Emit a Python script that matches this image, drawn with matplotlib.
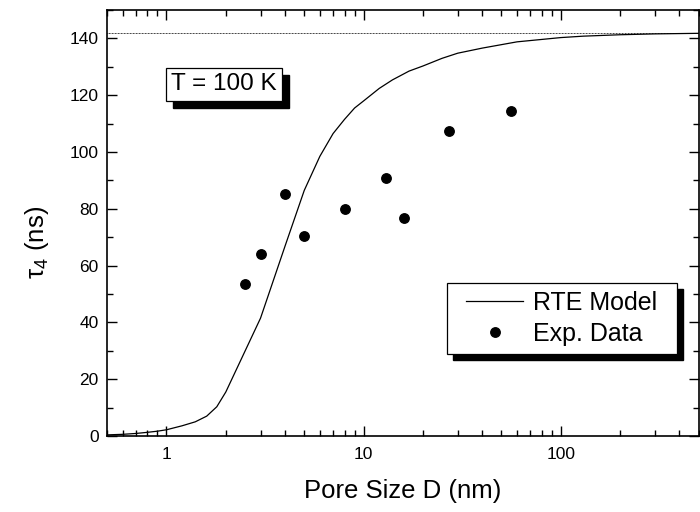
import matplotlib
matplotlib.use("Agg")
import matplotlib.pyplot as plt
from matplotlib.patches import Rectangle
from matplotlib.transforms import Bbox
from matplotlib.ticker import LogLocator, NullFormatter, FixedLocator, MultipleLocator

plt.rcParams['font.family'] = ['Liberation Sans', 'DejaVu Sans']
plt.rcParams['mathtext.fontset'] = 'custom'
plt.rcParams['mathtext.rm'] = 'Liberation Sans'
plt.rcParams['mathtext.it'] = 'Liberation Sans:italic'

# RTE model curve
model_D = [0.5, 0.6, 0.7, 0.8, 0.9, 1.0, 1.2, 1.4, 1.6, 1.8, 2.0, 3.0, 4.0, 5.0,
           6.0, 7.0, 8.0, 9.0, 10, 12, 14, 17, 20, 25, 30, 40, 60, 100, 130, 200, 300, 500]
model_tau = [0.4, 0.6, 0.9, 1.3, 1.7, 2.2, 3.6, 5.0, 7.0, 10.3, 15.5, 41.5, 67.0, 86.5,
             98.5, 106.5, 111.5, 115.5, 118.0, 122.4, 125.4, 128.5, 130.3, 133.0, 134.8,
             136.6, 138.8, 140.3, 140.8, 141.3, 141.6, 141.8]

# Experimental data
exp_D = [2.5, 3.0, 4.0, 5.0, 8.0, 13.0, 16.0, 27.0, 56.0]
exp_tau = [53.6, 64.1, 85.2, 70.3, 80.0, 91.0, 76.7, 107.5, 114.3]

asymptote = 142.0
xticks = [1, 10, 100]
xticklabels = ['1', '10', '100']

fig = plt.figure(figsize=(7.0, 5.12), dpi=100)
ax = fig.add_axes([0.153, 0.1484, 0.845, 0.832])

ax.axhline(asymptote, color='black', linestyle=(0, (1, 0.8)), linewidth=0.6, zorder=1)
ax.plot(model_D, model_tau, color='black', linewidth=0.9, label='RTE Model', zorder=2)
ax.plot(exp_D, exp_tau, linestyle='none', marker='o', color='black', markersize=6.8,
        label='Exp. Data', zorder=3)

ax.set_xscale('log')
ax.set_xlim(0.5, 500)
ax.set_ylim(0, 150)

ax.xaxis.set_major_locator(FixedLocator(xticks))
ax.set_xticklabels(xticklabels)
ax.xaxis.set_minor_locator(LogLocator(base=10, subs=range(2, 10)))
ax.xaxis.set_minor_formatter(NullFormatter())
ax.yaxis.set_major_locator(MultipleLocator(20))
ax.yaxis.set_minor_locator(MultipleLocator(10))

ax.tick_params(which='both', direction='in', top=True, right=True, width=1.0)
ax.tick_params(which='major', length=7, labelsize=12.5, pad=6)
ax.tick_params(which='minor', length=4)
ax.tick_params(axis='x', which='major', pad=8)
for s in ax.spines.values():
    s.set_linewidth(1.2)

ax.set_xlabel('Pore Size D (nm)', fontsize=18.5, labelpad=12)
ax.set_ylabel('τ$_4$ (ns)', fontsize=18.5)
ax.yaxis.set_label_coords(-0.094, 0.455)

txt = ax.text(0.198, 0.826, 'T = 100 K', transform=ax.transAxes, fontsize=17.5,
              ha='center', va='center', zorder=6,
              bbox=dict(boxstyle='square,pad=0.22', facecolor='white', edgecolor='black',
                        linewidth=0.9))

# legend box (manual frame with shadow)
lx0, lx1, ly0, ly1 = 0.574, 0.963, 0.1925, 0.360
ax.add_patch(Rectangle((lx0, ly0), lx1 - lx0, ly1 - ly0, transform=ax.transAxes,
                       facecolor='white', edgecolor='black', linewidth=0.9, zorder=5.5,
                       clip_on=False))
leg = ax.legend(loc='center', bbox_to_anchor=((lx0 + lx1) / 2, (ly0 + ly1) / 2),
                fontsize=18, frameon=False,
                handlelength=2.25, handletextpad=0.4, labelspacing=0.28,
                borderpad=0.3, borderaxespad=0, markerscale=1.0)
leg.set_zorder(6)

fig.canvas.draw()
inv = ax.transAxes.inverted()


def add_shadow(bb, off=6):
    (x0, y0) = inv.transform((bb.x0 + off, bb.y0 - off))
    (x1, y1) = inv.transform((bb.x1 + off, bb.y1 - off))
    ax.add_patch(Rectangle((x0, y0), x1 - x0, y1 - y0, transform=ax.transAxes,
                           facecolor='black', edgecolor='black', zorder=5, clip_on=False))


sx0, sy0 = ax.transAxes.transform((lx0, ly0))
sx1, sy1 = ax.transAxes.transform((lx1, ly1))
add_shadow(Bbox([[sx0, sy0], [sx1, sy1]]), off=6)
add_shadow(txt.get_bbox_patch().get_window_extent(), off=7)

fig.savefig('out.png', dpi=100)
